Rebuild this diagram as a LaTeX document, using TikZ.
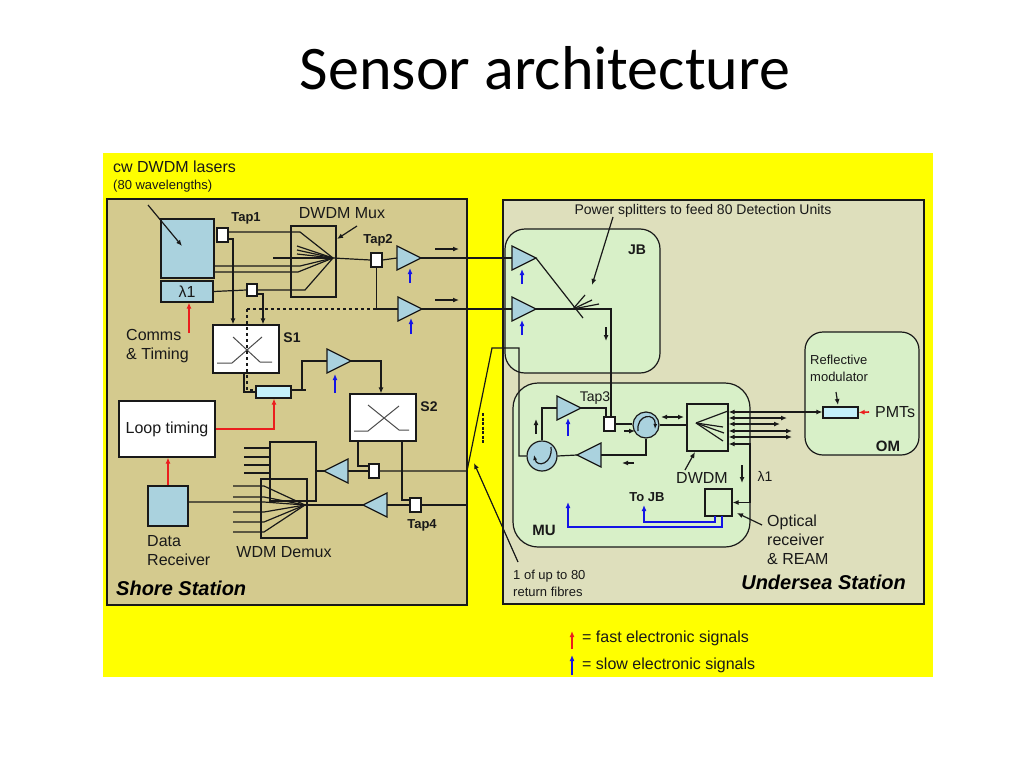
\documentclass[tikz,border=0pt]{standalone}
\usepackage{fontspec}
\setmainfont{Liberation Sans}
\newfontfamily\titlefont{Carlito}
\usetikzlibrary{arrows.meta}

\definecolor{sunyel}{RGB}{255,255,0}
\definecolor{shorebg}{RGB}{212,202,142}
\definecolor{seabg}{RGB}{222,223,188}
\definecolor{boxgreen}{RGB}{216,240,200}
\definecolor{ampblue}{RGB}{170,210,222}
\definecolor{modblue}{RGB}{196,240,250}
\definecolor{sigred}{RGB}{235,30,30}
\definecolor{sigblue}{RGB}{20,20,230}
\definecolor{ink}{RGB}{25,25,25}

\tikzset{
  wire/.style={draw=ink, line width=1.2pt},
  arw/.style={-{Latex[length=6pt,width=5pt]}},
  arwb/.style={{Latex[length=6pt,width=5pt]}-{Latex[length=6pt,width=5pt]}},
  box/.style={draw=ink, line width=1.2pt, inner sep=0pt},
  tapbox/.style={box, fill=white, minimum width=11pt, minimum height=14pt},
  circ/.style={box, circle, fill=ampblue},
  zone/.style={draw=ink, line width=1.2pt, fill=boxgreen, rounded corners=20pt},
  lbl/.style={inner sep=0pt, text=ink, font=\fontsize{16}{19}\selectfont},
  lblsm/.style={inner sep=0pt, text=ink, font=\fontsize{13}{17}\selectfont},
  lblbf/.style={inner sep=0pt, text=ink, font=\bfseries\fontsize{13}{16}\selectfont},
  lblbi/.style={inner sep=0pt, text=black, font=\bfseries\itshape\fontsize{20}{24}\selectfont},
  fast/.style={draw=sigred, line width=1.6pt, -{Latex[length=6pt,width=5pt]}},
  slow/.style={draw=sigblue, line width=1.6pt, -{Latex[length=6pt,width=5pt]}},
  amp/.pic={\draw[box, fill=ampblue] (-12,-12) -- (12,0) -- (-12,12) -- cycle;
    \coordinate (-in) at (-12,0); \coordinate (-out) at (12,0);},
  ampl/.pic={\draw[box, fill=ampblue] (12,-12) -- (-12,0) -- (12,12) -- cycle;
    \coordinate (-in) at (12,0); \coordinate (-out) at (-12,0);}
}

\begin{document}
\begin{tikzpicture}[x=1pt, y=-1pt]
\useasboundingbox (0,0) rectangle (1024,768);
\fill[white] (0,0) rectangle (1024,768);
\node[inner sep=0pt, font=\titlefont\fontsize{62}{70}\selectfont] (title) at (545,68) {Sensor architecture};

% backgrounds
\fill[sunyel] (103,153) rectangle (933,677);
\draw[box, fill=shorebg] (107,199) rectangle (467,605);
\draw[box, fill=seabg] (503,200) rectangle (924,604);
\draw[zone] (505,229) rectangle (660,373);
\draw[zone, rounded corners=25pt] (513,383) rectangle (750,547);
\draw[zone, rounded corners=18pt] (805,332) rectangle (919,455);

% shore station
\node[lbl, anchor=west] (cw) at (113,167) {cw DWDM lasers};
\node[lblsm, anchor=west] (wl) at (113,186) {(80 wavelengths)};
\node[box, fill=ampblue, minimum width=53pt, minimum height=59pt] (L) at (187.5,248.5) {};
\node[box, lbl, fill=ampblue, minimum width=52pt, minimum height=21pt] (L1) at (187,291.5) {λ1};
\node[tapbox] (T1) at (222.5,235) {};
\node[lblbf] (tap1) at (246,218) {Tap1};
\node[box, minimum width=45pt, minimum height=71pt] (Mx) at (313.5,261.5) {};
\node[lbl] (mux) at (342,213) {DWDM Mux};
\coordinate (MxF) at (333,258);
\node[tapbox, minimum width=10pt, minimum height=12pt] (TL) at (252,290) {};
\node[tapbox] (T2) at (376.5,260) {};
\node[lblbf] (tap2) at (378,240) {Tap2};
\pic (A1) at (409,258) {amp};
\pic (A2) at (410,309) {amp};
\node[box, fill=white, minimum width=66pt, minimum height=48pt] (S1) at (246,349) {};
\node[lblbf, font=\bfseries\fontsize{14}{16}\selectfont] (s1) at (292,338) {S1};
\node[box, fill=modblue, minimum width=35pt, minimum height=12pt] (M1) at (273.5,392) {};
\pic (A3) at (339,361) {amp};
\node[box, fill=white, minimum width=66pt, minimum height=47pt] (S2) at (383,417.5) {};
\node[lblbf, font=\bfseries\fontsize{14}{16}\selectfont] (s2) at (429,407) {S2};
\node[tapbox, minimum width=10pt] (T5) at (374,471) {};
\pic (A5) at (336,471) {ampl};
\node[tapbox] (T4) at (415.5,505) {};
\node[lblbf] (tap4) at (422,525) {Tap4};
\pic (A4) at (375,505) {ampl};
\node[box, minimum width=46pt, minimum height=59pt] (Dx1) at (293,471.5) {};
\node[box, minimum width=46pt, minimum height=59pt] (Dx2) at (284,508.5) {};
\coordinate (DxF) at (305,505);
\node[lbl] (wdm) at (284,552) {WDM Demux};
\node[box, lbl, fill=white, minimum width=96pt, minimum height=56pt] (LT) at (167,429) {Loop timing};
\node[box, fill=ampblue, minimum width=40pt, minimum height=40pt] (DR) at (168,506) {};
\node[lbl, anchor=west, align=left] (data) at (147,551) {Data\\Receiver};
\node[lbl, anchor=west, align=left] (comms) at (126,346) {Comms\\\& Timing};
\node[lblbi, anchor=west] (shore) at (116,588) {Shore Station};

% inside S1 and S2
\draw[black!70, line width=1pt] (217,363) -- (232,363) -- (262,337);
\draw[black!70, line width=1pt] (233,337) -- (260,362) -- (272,362);
\draw[black!70, line width=1pt] (354,431) -- (368,431) -- (399,406);
\draw[black!70, line width=1pt] (368,405) -- (399,430) -- (409,430);

% shore wiring
\draw[wire, arw] (148,205) -- (182,246);
\draw[wire, arw] (357,226) -- (337,239);
\draw[wire] (T1.east |- 0,232) -- (300,232) -- (MxF);
\draw[wire, arw] (T1.east |- 0,239) -| (S1.north -| 233,0);
\draw[wire] (L.east |- 0,266) -- (300,266) -- (MxF);
\draw[wire] (L.east |- 0,272) -- (298,272) -- (MxF);
\foreach \y in {246,250,254} \draw[wire] (297,\y) -- (MxF);
\draw[wire] (273,258) -- (MxF);
\draw[wire] (L1.east) -- (TL.west);
\draw[wire] (TL.east) -- (305,290) -- (MxF);
\draw[wire, arw] (TL.east |- 0,294) -| (S1.north -| 263,0);
\draw[wire] (MxF) -- (T2.west);
\draw[wire] (T2.east) -- (A1-in);
\draw[wire] (T2.south) |- (A2-in);
\draw[wire, dashed] (247,309) -- (376,309);
\draw[wire, dashed] (247,309) -- (247,390) -- (M1.west |- 0,390);
\draw[wire] (S1.south -| 244,0) |- (M1.west);
\draw[wire, arw] (435,249) -- (459,249);
\draw[wire, arw] (435,300) -- (459,300);
\draw[slow] (410,283) -- (410,268);
\draw[slow] (411,334) -- (411,318);
\draw[wire] (M1.east |- 0,390) -- (306,390);
\draw[wire] (302,390) |- (A3-in);
\draw[wire, arw] (A3-out) -| (S2.north -| 381,0);
\draw[slow] (335,393) -- (335,374);
\draw[fast] (LT.east) -| (M1.south -| 274,0);
\draw[fast] (DR.north) -- (DR.north |- LT.south);
\draw[fast] (189,333) -- (L1.south -| 189,0);
\draw[wire] (S2.south -| 358,0) |- (T5.west |- 0,466);
\draw[wire] (T5.west) -- (A5-in);
\draw[wire] (A5-out) -- (Dx1.east |- A5-out);
\foreach \y in {448,457,465,473} \draw[wire] (244,\y) -- (Dx1.west |- 0,\y);
\foreach \y in {486,497,512,522,532} \draw[wire] (233,\y) -- (264,\y) -- (DxF);
\draw[wire] (DR.east |- 0,502) -- (264,502) -- (DxF);
\draw[wire] (T4.west) -- (A4-in);
\draw[wire] (A4-out) -- (DxF);
\draw[wire] (S2.south -| 402,0) |- (T4.west |- 0,500);
\draw[wire] (T4.east) -- (467,505);

% fibres between stations
\pic (J1) at (524,258) {amp};
\pic (J2) at (524,309) {amp};
\draw[wire] (A1-out) -- (J1-in);
\draw[wire] (A2-out) -- (J2-in);
\node[circ, minimum size=30pt] (C1) at (542,456) {};
\node[circ, minimum size=26pt] (C2) at (646,425) {};
\draw[wire] (T5.east) -- (467,471) -- (492,348) -- (519,348) |- (C1.west);
\draw[ink, line width=1.8pt, dash pattern=on 3pt off 1.5pt] (483,413) -- (483,443);
\draw[wire, arw] (518,562) -- (474,463);
\node[lblsm, anchor=west, align=left] (ret) at (513,583) {1 of up to 80\\return fibres};

% junction box
\node[lblsm, font=\fontsize{14}{17}\selectfont] (psplit) at (703,211) {Power splitters to feed 80 Detection Units};
\node[lblbf, font=\bfseries\fontsize{14}{16}\selectfont] (jb) at (637,250) {JB};
\draw[slow] (522,284) -- (522,269);
\draw[slow] (522,335) -- (522,320);
\coordinate (SP) at (573,309);
\draw[wire] (J1-out) -- (583,318);
\draw[wire] (SP) -- (585,295);
\draw[wire] (SP) -- (592,300);
\draw[wire] (SP) -- (599,304);
\draw[wire, arw] (613,217) -- (592,285);
\draw[wire, arw] (606,327) -- (606,341);

% MU
\node[tapbox] (T3) at (609.5,424) {};
\node[lbl, font=\fontsize{14}{17}\selectfont] (tap3) at (595,398) {Tap3};
\pic (U1) at (569,408) {amp};
\pic (U2) at (589,455) {ampl};
\draw[wire] (J2-out) -| (T3.north -| 611,0);
\draw[wire] (C1.north) |- (U1-in);
\draw[wire] (U1-out) -| (T3.north -| 606,0);
\draw[wire] (T3.east) -- (C2.west |- T3.east);
\draw[wire] (C2.south) |- (U2-in);
\draw[wire] (U2-out) -- (C1.east);
\draw[wire, arw] (624,431) -- (635,431);
\draw[wire, arw] (634,463) -- (622,463);
\draw[wire, arw] (536,434) -- (536,419);
\draw[slow] (568,436) -- (568,418);
\draw[ink, line width=1.2pt, -{Latex[length=5pt,width=4pt]}] (551,447) .. controls (553,464) and (537,468) .. (534,455);
\draw[ink, line width=1.2pt, -{Latex[length=5pt,width=4pt]}] (638,431) .. controls (636,414) and (656,412) .. (655,429);
\node[box, minimum width=41pt, minimum height=47pt] (DW) at (707.5,427.5) {};
\coordinate (DWF) at (696,423);
\draw[wire] (C2.east) -- (DW.west |- C2.east);
\draw[wire, arwb] (661,417) -- (684,417);
\draw[wire] (DWF) -- (728,411);
\draw[wire] (DWF) -- (723,427);
\draw[wire] (DWF) -- (724,433);
\draw[wire] (DWF) -- (723,441);
\node[lbl] (dwdm) at (702,478) {DWDM};
\draw[wire, arw] (685,470) -- (695,452);
\node[box, minimum width=27pt, minimum height=27pt] (RX) at (718.5,502.5) {};
\draw[wire, arwb] (DW.east |- 0,444) -- (750,444) |- (RX.east);
\draw[wire, arw] (742,465) -- (742,483);
\node[lbl, font=\fontsize{14}{17}\selectfont] (lam) at (765,476) {λ1};
\node[lblbf] (tojb) at (647,497) {To JB};
\draw[slow] (715,516) |- (644,522) -- (644,505);
\draw[slow] (722,516) |- (568,527) -- (568,502);
\node[lblbf, font=\bfseries\fontsize{15}{17}\selectfont] (mu) at (544,530) {MU};
\node[lbl, anchor=west, align=left] (optrx) at (767,540) {Optical\\receiver\\\& REAM};
\draw[wire, arw] (762,525) -- (737,513);

% optical module
\node[box, fill=modblue, minimum width=35pt, minimum height=11pt] (RM) at (840.5,412.5) {};
\node[lblsm, anchor=west, align=left] (refl) at (810,368) {Reflective\\modulator};
\draw[wire, arw] (836,392) -- (838,405);
\draw[fast] (869,412) -- (RM.east);
\node[lbl, anchor=west] (pmt) at (875,412) {PMTs};
\node[lblbf, font=\bfseries\fontsize{15}{17}\selectfont] (om) at (888,446) {OM};
\draw[wire, arwb] (DW.east |- 0,412) -- (RM.west |- 0,412);
\foreach \y/\e in {418/787, 424/780, 431/792, 437/792}
  \draw[wire, arwb] (DW.east |- 0,\y) -- (\e,\y);
\node[lblbi, anchor=east] (sea) at (906,582) {Undersea Station};

% legend
\draw[fast] (572,649) -- (572,631);
\node[lbl, anchor=west] (lgfast) at (582,638) {= fast electronic signals};
\draw[slow] (572,675) -- (572,655);
\node[lbl, anchor=west] (lgslow) at (582,665) {= slow electronic signals};
\end{tikzpicture}
\end{document}
